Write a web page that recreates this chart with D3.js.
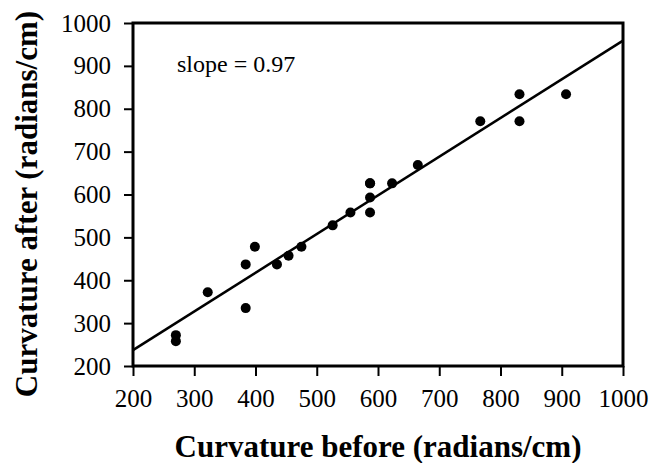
<!DOCTYPE html>
<html>
<head>
<meta charset="utf-8">
<script src="https://cdn.jsdelivr.net/npm/d3@7/dist/d3.min.js"></script>
<style>
html,body{margin:0;padding:0;background:#fff;}
svg{display:block;}
svg text{font-family:"Liberation Serif","Times New Roman",serif !important;fill:#000;}
</style>
</head>
<body>
<svg id="chart" width="652" height="463"></svg>
<script>
// Data
const before = [270, 270, 322, 384, 384, 399, 435, 454, 475, 526, 555, 587, 587, 587, 587, 623, 665, 767, 831, 831, 907];
const after  = [272, 258, 372, 437, 335, 478, 437, 457, 478, 528, 558, 558, 593, 626, 626, 626, 669, 771, 834, 771, 834];
const fitX = [200, 1000];
const fitY = [237, 959];
const xTicks = [200, 300, 400, 500, 600, 700, 800, 900, 1000];
const yTicks = [200, 300, 400, 500, 600, 700, 800, 900, 1000];
const xTitle = "Curvature before (radians/cm)";
const yTitle = "Curvature after (radians/cm)";
const note = "slope = 0.97";

const svg = d3.select("#chart");
const L = 133, R = 623, T = 23, B = 366;
const x = d3.scaleLinear().domain([200, 1000]).range([L, R]);
const y = d3.scaleLinear().domain([200, 1000]).range([B, T]);

// frame
svg.append("rect").attr("x", L).attr("y", T).attr("width", R - L).attr("height", B - T)
  .attr("fill", "none").attr("stroke", "#000").attr("stroke-width", 3);

// axes
const xa = svg.append("g").attr("transform", `translate(0,${B})`)
  .call(d3.axisBottom(x).tickValues(xTicks).tickSize(10).tickPadding(13).tickFormat(d3.format("d")));
const ya = svg.append("g").attr("transform", `translate(${L},0)`)
  .call(d3.axisLeft(y).tickValues(yTicks).tickSize(9).tickPadding(13).tickFormat(d3.format("d")));
[xa, ya].forEach(g => {
  g.attr("font-family", null).attr("font-size", null);
  g.select(".domain").remove();
  g.selectAll(".tick line").attr("stroke", "#000").attr("stroke-width", 2);
  g.selectAll(".tick text").style("font-family", "Liberation Serif").style("font-size", "25px").attr("fill", "#000");
});

// fit line
svg.append("line")
  .attr("x1", x(fitX[0])).attr("y1", y(fitY[0]))
  .attr("x2", x(fitX[1])).attr("y2", y(fitY[1]))
  .attr("stroke", "#000").attr("stroke-width", 2.5);

// points
svg.append("g").selectAll("circle").data(before.map((b, i) => [b, after[i]])).join("circle")
  .attr("cx", d => x(d[0])).attr("cy", d => y(d[1])).attr("r", 5).attr("fill", "#000");

// annotation
svg.append("text").attr("x", 177).attr("y", 72).style("font-size", "24px").text(note);

// titles
svg.append("text").attr("x", (L + R) / 2).attr("y", 457).attr("text-anchor", "middle")
  .style("font-size", "31px").style("font-weight", "bold").text(xTitle);
svg.append("text").attr("transform", `translate(37,204) rotate(-90)`).attr("text-anchor", "middle")
  .style("font-size", "31px").style("font-weight", "bold").text(yTitle);
</script>
</body>
</html>
